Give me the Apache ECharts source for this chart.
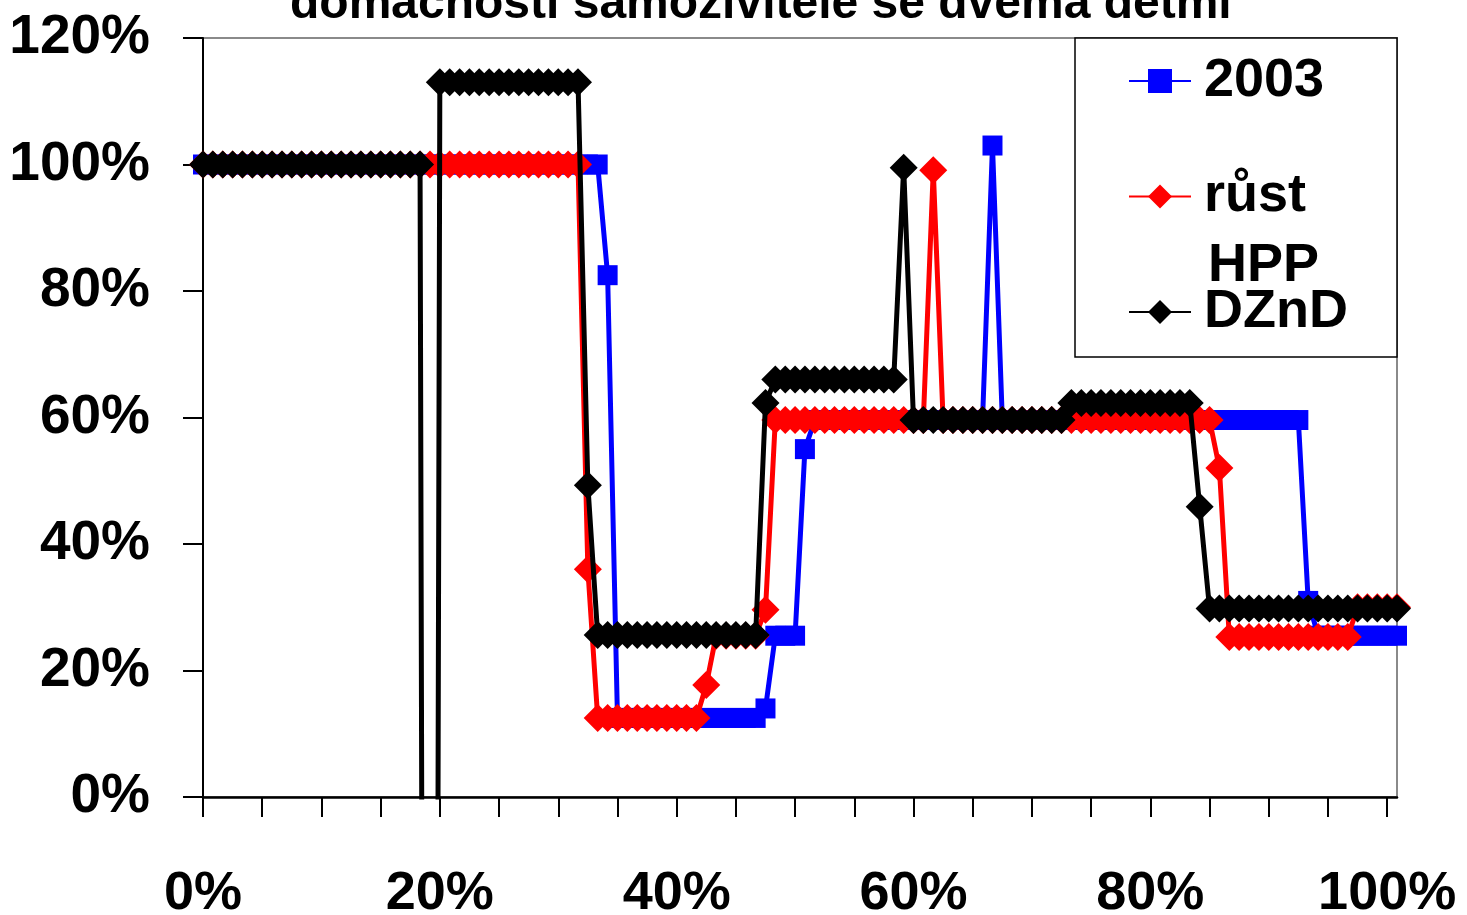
<!DOCTYPE html>
<html><head><meta charset="utf-8">
<script src="https://cdn.jsdelivr.net/npm/echarts@6/dist/echarts.min.js"></script>
<style>html,body{margin:0;padding:0;background:#fff}#c{width:1467px;height:915px}</style>
</head><body><div id="c"></div>
<script>
// x positions (% of axis) shared by all three series
const xPct = [
  0,0.83,1.67,2.5,3.33,4.17, 5,5.83,6.67,7.5,8.33,9.17, 10,10.83,11.67,12.5,13.33,14.17, 15,15.83,16.67,17.5,18.33,19.17,
  20,20.83,21.67,22.5,23.33,24.17, 25,25.83,26.67,27.5,28.33,29.17, 30,30.83,31.67,32.5,33.33,34.17, 35,35.83,36.67,37.5,38.33,39.17,
  40,40.83,41.67,42.5,43.33,44.17, 45,45.83,46.67,47.5,48.33,49.17, 50,50.83,51.67,52.5,53.33,54.17, 55,55.83,56.67,57.5,58.33,59.17,
  60,60.83,61.67,62.5,63.33,64.17, 65,65.83,66.67,67.5,68.33,69.17, 70,70.83,71.67,72.5,73.33,74.17, 75,75.83,76.67,77.5,78.33,79.17,
  80,80.83,81.67,82.5,83.33,84.17, 85,85.83,86.67,87.5,88.33,89.17, 90,90.83,91.67,92.5,93.33,94.17, 95,95.83,96.67,97.5,98.33,99.17,
  100,100.83
];
// 2003
const s2003 = [
  100,100,100,100,100,100,100,100,100,100,
  100,100,100,100,100,100,100,100,100,100,
  100,100,100,100,100,100,100,100,100,100,
  100,100,100,100,100,100,100,100,100,100,
  100,82.5,12.5,12.5,12.5,12.5,12.5,12.5,12.5,12.5,
  12.5,12.5,12.5,12.5,12.5,12.5,12.5,14,25.5,25.5,
  25.5,55,59.6,59.6,59.6,59.6,59.6,59.6,59.6,59.6,
  59.6,59.6,59.6,59.6,59.6,59.6,59.6,59.6,59.6,59.6,
  103,59.6,59.6,59.6,59.6,59.6,59.6,59.6,59.6,59.6,
  59.6,59.6,59.6,59.6,59.6,59.6,59.6,59.6,59.6,59.6,
  59.6,59.6,59.6,59.6,59.6,59.6,59.6,59.6,59.6,59.6,
  59.6,59.6,31,25.5,25.5,25.5,25.5,25.5,25.5,25.5,
  25.5,25.5
];
// růst HPP
const sRust = [
  100,100,100,100,100,100,100,100,100,100,
  100,100,100,100,100,100,100,100,100,100,
  100,100,100,100,100,100,100,100,100,100,
  100,100,100,100,100,100,100,100,100,36,
  12.5,12.5,12.5,12.5,12.5,12.5,12.5,12.5,12.5,12.5,
  12.5,17.7,25.5,25.5,25.5,25.5,25.5,29.6,59.6,59.6,
  59.6,59.6,59.6,59.6,59.6,59.6,59.6,59.6,59.6,59.6,
  59.6,59.6,59.6,59.6,99.1,59.6,59.6,59.6,59.6,59.6,
  59.6,59.6,59.6,59.6,59.6,59.6,59.6,59.6,59.6,59.6,
  59.6,59.6,59.6,59.6,59.6,59.6,59.6,59.6,59.6,59.6,
  59.6,59.6,59.6,52,25.3,25.3,25.3,25.3,25.3,25.3,
  25.3,25.3,25.3,25.3,25.3,25.3,25.3,30,30,30,
  30,30
];
// DZnD
const sDZnD = [
  100,100,100,100,100,100,100,100,100,100,
  100,100,100,100,100,100,100,100,100,100,
  100,100,100,-500,113,113,113,113,113,113,
  113,113,113,113,113,113,113,113,113,49.3,
  25.6,25.6,25.6,25.6,25.6,25.6,25.6,25.6,25.6,25.6,
  25.6,25.6,25.6,25.6,25.6,25.6,25.6,62.3,66,66,
  66,66,66,66,66,66,66,66,66,66,
  66,99.5,59.6,59.6,59.6,59.6,59.6,59.6,59.6,59.6,
  59.6,59.6,59.6,59.6,59.6,59.6,59.6,59.6,62.3,62.3,
  62.3,62.3,62.3,62.3,62.3,62.3,62.3,62.3,62.3,62.3,
  62.3,45.9,29.8,29.8,29.8,29.8,29.8,29.8,29.8,29.8,
  29.8,29.8,29.8,29.8,29.8,29.8,29.8,29.8,29.8,29.8,
  29.8,29.8
];
const xTickValues = [0,5,10,15,20,25,30,35,40,45,50,55,60,65,70,75,80,85,90,95,100];
const xLabelValues = [0,20,40,60,80,100];
const seriesNames = ['2003', 'růst HPP', 'DZnD'];
const titleText = 'domácnosti samoživitele se dvěma dětmi';

const FONT = "'Liberation Sans', Arial, Helvetica, sans-serif";
const pairs = arr => xPct.map((x, i) => [x, arr[i]]);

const chart = echarts.init(document.getElementById('c'), null, {renderer: 'canvas'});
chart.setOption({
  animation: false,
  backgroundColor: '#fff',
  title: {
    text: titleText, left: 290, top: -19, padding: 0,
    textStyle: {fontFamily: FONT, fontSize: 48, fontWeight: 'bold', color: '#000'}
  },
  grid: {left: 203, right: 70, top: 38, bottom: 118, show: true, borderColor: '#8a8a8a', borderWidth: 2,
    backgroundColor: 'transparent', containLabel: false, outerBoundsMode: 'none'},
  xAxis: {
    type: 'value', min: 0, max: 100.83,
    axisLine: {show: true, onZero: false, lineStyle: {color: '#000', width: 2.5}},
    axisTick: {show: true, customValues: xTickValues, length: 20, lineStyle: {color: '#000', width: 2}},
    axisLabel: {customValues: xLabelValues, formatter: v => v + '%', margin: 70,
      fontFamily: FONT, fontSize: 54, fontWeight: 'bold', color: '#000'},
    splitLine: {show: false}
  },
  yAxis: {
    type: 'value', min: 0, max: 120, interval: 20,
    axisLine: {show: true, lineStyle: {color: '#000', width: 2}},
    axisTick: {show: true, length: 20, lineStyle: {color: '#000', width: 2}},
    axisLabel: {formatter: v => v + '%', margin: 53,
      fontFamily: FONT, fontSize: 55, fontWeight: 'bold', color: '#000'},
    splitLine: {show: false}
  },
  legend: {
    data: seriesNames, orient: 'vertical', left: 1128, top: 51, padding: 0, z: 5,
    itemWidth: 62, itemHeight: 30, itemGap: 55.5,
    formatter: n => n === 'růst HPP' ? 'růst' : n,
    textStyle: {fontFamily: FONT, fontSize: 54, fontWeight: 'bold', color: '#000', lineHeight: 60, padding: [0, 0, 0, 8]}
  },
  graphic: [
    {type: 'rect', z: 3, shape: {x: 1075, y: 38, width: 322, height: 319},
      style: {fill: '#fff', stroke: '#000', lineWidth: 1.5}},
    {type: 'text', z: 6, x: 1208, y: 266,
      style: {text: 'HPP', font: "bold 54px 'Liberation Sans', Arial, sans-serif", fill: '#000', verticalAlign: 'middle', align: 'left'}}
  ],
  series: [
    {name: seriesNames[0], type: 'line', data: pairs(s2003), z: 2,
      symbol: 'rect', symbolSize: 20, showAllSymbol: true,
      lineStyle: {color: '#0000ff', width: 5}, itemStyle: {color: '#0000ff'}},
    {name: seriesNames[1], type: 'line', data: pairs(sRust), z: 3,
      symbol: 'diamond', symbolSize: 28, showAllSymbol: true,
      lineStyle: {color: '#ff0000', width: 5}, itemStyle: {color: '#ff0000'}},
    {name: seriesNames[2], type: 'line', data: pairs(sDZnD), z: 4,
      symbol: 'diamond', symbolSize: 28, showAllSymbol: true,
      lineStyle: {color: '#000000', width: 5}, itemStyle: {color: '#000000'}}
  ]
});
</script>
</body></html>
